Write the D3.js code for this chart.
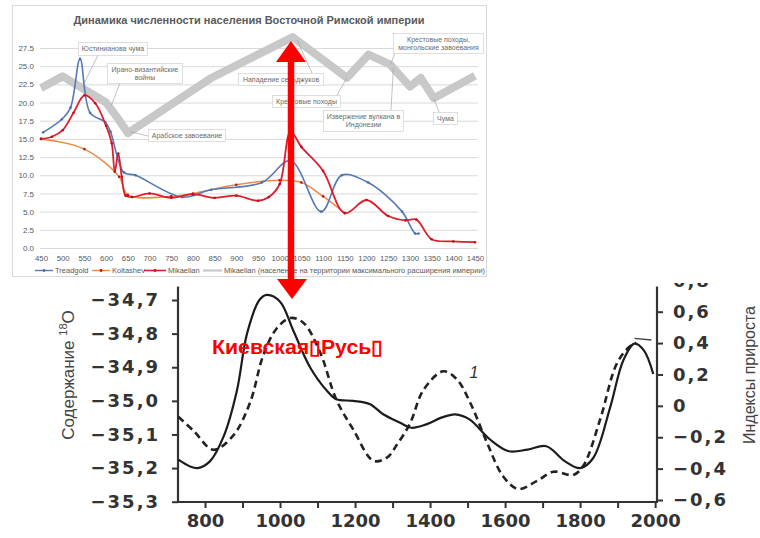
<!DOCTYPE html>
<html><head><meta charset="utf-8">
<script src="https://cdn.jsdelivr.net/npm/d3@7/dist/d3.min.js"></script>
<style>body{margin:0;background:#fff}svg{display:block}</style>
</head><body>
<svg id="c" width="760" height="538"></svg>
<script>
// ================= DATA: top chart =================
const topTitle = "Динамика численности населения Восточной Римской империи";
const topYTicks = [0, 2.5, 5, 7.5, 10, 12.5, 15, 17.5, 20, 22.5, 25, 27.5];
const topXTicks = [450,500,550,600,650,700,750,800,850,900,950,1000,1050,1100,1150,1200,1250,1300,1350,1400,1450];

const treadgoldYears  = [455, 498, 518, 540, 563, 598, 610, 641, 668, 775, 842, 959, 1025, 1096, 1143, 1204, 1282, 1312, 1320];
const treadgoldValues = [15.9, 17.7, 19.3, 26.0, 18.6, 17.3, 16.0, 10.4, 10.0, 7.0, 8.0, 9.0, 12.0, 5.0, 10.0, 9.0, 5.0, 2.0, 2.0];

const koltashevYears  = [450, 550, 630, 650, 750, 800, 900, 1000, 1050, 1100, 1150];
const koltashevValues = [15.0, 13.6, 9.8, 7.3, 7.1, 7.5, 8.7, 9.3, 9.0, 7.1, 4.8];

const mikaelianYears  = [450, 475, 500, 525, 550, 575, 600, 613, 620, 628, 636, 645, 660, 700, 750, 800, 850, 900, 950, 975, 1000, 1025, 1050, 1100, 1150, 1200, 1250, 1290, 1315, 1350, 1400, 1450];
const mikaelianValues = [15.0, 15.3, 16.2, 18.6, 21.0, 19.9, 16.8, 14.4, 10.5, 13.0, 9.8, 7.2, 7.0, 7.5, 6.9, 7.4, 6.9, 7.2, 6.5, 7.0, 8.8, 16.0, 13.9, 10.6, 4.8, 6.6, 4.4, 3.8, 3.9, 1.2, 0.9, 0.8];

const maxTerritoryYears  = [450, 500, 600, 625, 650, 840, 1030, 1155, 1205, 1255, 1300, 1325, 1355, 1450];
const maxTerritoryValues = [22.0, 23.6, 20.0, 18.0, 15.8, 23.3, 29.0, 23.4, 26.6, 25.2, 22.2, 23.4, 20.6, 23.7];

const seriesNames = ["Treadgold", "Koltashev", "Mikaelian", "Mikaelian (население на территории максимального расширения империи)"];

const eventLabels = [
  ["Юстинианова чума"],
  ["Ирано-византийские", "войны"],
  ["Арабское завоевание"],
  ["Нападение сельджуков"],
  ["Крестовые походы"],
  ["Извержение вулкана в", "Индонезии"],
  ["Крестовые походы,", "монгольские завоевания"],
  ["Чума"]
];
const eventYears  = [548, 612, 655, 1040, 1155, 1262, 1255, 1355];
const eventValues = [22.5, 19.6, 16.0, 28.6, 23.4, 24.8, 25.2, 20.6];

// ================= DATA: bottom chart =================
const leftTicks  = [-35.3, -35.2, -35.1, -35.0, -34.9, -34.8, -34.7];
const rightTicks = [-0.6, -0.4, -0.2, 0, 0.2, 0.4, 0.6, 0.8];
const bottomTicks = [800, 900, 1000, 1100, 1200, 1300, 1400, 1500, 1600, 1700, 1800, 1900, 2000];
const bottomLabelTicks = [800, 1000, 1200, 1400, 1600, 1800, 2000];
const leftTitle = "Содержание ";
const rightTitle = "Индексы прироста";
const overlayText = "Киевская▯Русь▯";

const isotopeYears  = [729, 760, 780, 813, 850, 885, 912, 945, 965, 1000, 1035, 1080, 1125, 1150, 1195, 1240, 1275, 1320, 1350, 1390, 1430, 1467, 1505, 1560, 1610, 1660, 1710, 1760, 1800, 1835, 1880, 1915, 1945, 1970, 1995];
const isotopeValues = [-35.175, -35.195, -35.2, -35.18, -35.105, -34.97, -34.80, -34.70, -34.685, -34.705, -34.79, -34.90, -34.97, -34.995, -35.0, -35.01, -35.04, -35.065, -35.08, -35.07, -35.05, -35.04, -35.055, -35.115, -35.15, -35.145, -35.135, -35.18, -35.2, -35.17, -35.02, -34.88, -34.83, -34.85, -34.92];

const growthYears  = [729, 770, 822, 875, 920, 955, 990, 1027, 1062, 1107, 1150, 1195, 1249, 1285, 1311, 1347, 1382, 1435, 1471, 1507, 1551, 1595, 1635, 1684, 1729, 1782, 1809, 1853, 1898, 1933, 1950];
const growthValues = [-0.07, -0.16, -0.28, -0.19, 0.02, 0.32, 0.49, 0.56, 0.53, 0.34, 0.04, -0.15, -0.35, -0.33, -0.25, -0.11, 0.10, 0.22, 0.17, 0.02, -0.23, -0.45, -0.53, -0.48, -0.42, -0.44, -0.38, -0.09, 0.27, 0.38, 0.40];

// ================= DRAWING =================
const svg = d3.select("#c");
const F = "'Liberation Sans', Arial, sans-serif";
const FD = "'DejaVu Sans', sans-serif";
const zip = (a, b) => a.map((v, i) => [v, b[i]]);

// ---------- top chart ----------
svg.append("rect").attr("x", 12.5).attr("y", 5.5).attr("width", 474).attr("height", 271)
  .attr("fill", "#fff").attr("stroke", "#d9d9d9");

svg.append("text").attr("x", 249).attr("y", 24).attr("text-anchor", "middle")
  .attr("fill", "#595959").style("font", "bold 11px " + F).text(topTitle);

const xT = d3.scaleLinear().domain([450, 1450]).range([41, 475]);
const yT = d3.scaleLinear().domain([0, 27.5]).range([248, 48]);

const gy = svg.append("g").attr("transform", "translate(40,0)")
  .call(d3.axisLeft(yT).tickValues(topYTicks).tickSize(-438).tickPadding(6).tickFormat(d3.format(".1f")));
gy.select(".domain").remove();
gy.selectAll("line").attr("stroke", "#d9d9d9");
gy.selectAll("text").attr("fill", "#595959").style("font", "8px " + F);

const gx = svg.append("g").attr("transform", "translate(0,248)")
  .call(d3.axisBottom(xT).tickValues(topXTicks).tickSize(0).tickPadding(7).tickFormat(d3.format("d")));
gx.select(".domain").attr("stroke", "#d9d9d9");
gx.selectAll("text").attr("fill", "#595959").style("font", "7.8px " + F);

const lineT = d3.line().x(d => xT(d[0])).y(d => yT(d[1]));
const smoothT = d3.line().x(d => xT(d[0])).y(d => yT(d[1])).curve(d3.curveCatmullRom.alpha(0.5));

// grey thick series
svg.append("path").datum(zip(maxTerritoryYears, maxTerritoryValues))
  .attr("d", lineT).attr("fill", "none").attr("stroke", "#c8c8c8").attr("stroke-width", 8)
  .attr("stroke-linejoin", "round").attr("stroke-linecap", "butt");

// annotations (callouts)
const boxes = [
  {x: 78, y: 42, w: 69, h: 13, lx: 98, ly: 55},
  {x: 107, y: 63, w: 75, h: 20, lx: 120, ly: 83},
  {x: 148, y: 129, w: 77, h: 12, lx: 148, ly: 136},
  {x: 238, y: 73, w: 85, h: 12, lx: 312, ly: 73},
  {x: 272, y: 95, w: 68, h: 12, lx: 337, ly: 95},
  {x: 323, y: 110, w: 80, h: 21, lx: 391, ly: 110},
  {x: 393, y: 33, w: 90, h: 20, lx: 395, ly: 53},
  {x: 433, y: 112, w: 24, h: 12, lx: 439, ly: 112}
];
const ann = svg.append("g");
eventLabels.forEach((lines, i) => {
  const b = boxes[i];
  ann.append("line").attr("x1", b.lx).attr("y1", b.ly)
    .attr("x2", xT(eventYears[i])).attr("y2", yT(eventValues[i]))
    .attr("stroke", "#a6a6a6").attr("stroke-width", 0.7);
});
eventLabels.forEach((lines, i) => {
  const b = boxes[i];
  ann.append("rect").attr("x", b.x + 0.5).attr("y", b.y + 0.5).attr("width", b.w).attr("height", b.h)
    .attr("fill", "#fff").attr("stroke", "#d0d0d0").attr("stroke-width", 0.7);
  lines.forEach((t, j) => {
    ann.append("text").attr("x", b.x + b.w / 2 + 0.5).attr("y", b.y + 9 + j * 8)
      .attr("text-anchor", "middle").attr("fill", "#6b6b6b").style("font", "7px " + F).text(t);
  });
});

const series = [
  {years: koltashevYears, values: koltashevValues, color: "#ee8a45", marker: "#b5121b", w: 1.5},
  {years: treadgoldYears, values: treadgoldValues, color: "#5479b8", marker: "#4a6fae", w: 1.6},
  {years: mikaelianYears, values: mikaelianValues, color: "#dc1f2e", marker: "#c0101d", w: 1.8}
];
series.forEach(s => {
  const pts = zip(s.years, s.values);
  svg.append("path").datum(pts).attr("d", smoothT).attr("fill", "none")
    .attr("stroke", s.color).attr("stroke-width", s.w);
  svg.append("g").selectAll("circle").data(pts).join("circle")
    .attr("cx", d => xT(d[0])).attr("cy", d => yT(d[1])).attr("r", 1.3).attr("fill", s.marker);
});

// legend
const legendLayout = [
  {x1: 35, x2: 53, tx: 55, color: "#5479b8", marker: "#4a6fae", w: 1.4},
  {x1: 92, x2: 110, tx: 112, color: "#ee8a45", marker: "#b5121b", w: 1.4},
  {x1: 144, x2: 166, tx: 168, color: "#dc1f2e", marker: "#c0101d", w: 1.6},
  {x1: 203, x2: 222, tx: 224, color: "#c8c8c8", marker: null, w: 2.2}
];
seriesNames.forEach((name, i) => {
  const L = legendLayout[i];
  svg.append("line").attr("x1", L.x1).attr("x2", L.x2).attr("y1", 270.5).attr("y2", 270.5)
    .attr("stroke", L.color).attr("stroke-width", L.w);
  if (L.marker) svg.append("circle").attr("cx", (L.x1 + L.x2) / 2).attr("cy", 270.5).attr("r", 1.4).attr("fill", L.marker);
  svg.append("text").attr("x", L.tx).attr("y", 273.3).attr("fill", "#595959")
    .style("font", "7.5px " + F).text(name);
});

// ---------- bottom chart ----------
svg.append("defs").append("clipPath").attr("id", "bc")
  .append("rect").attr("x", 0).attr("y", 283).attr("width", 760).attr("height", 260);
const B = svg.append("g").attr("clip-path", "url(#bc)");

const xB = d3.scaleLinear().domain([728, 2005]).range([178, 657]);
const yL = d3.scaleLinear().domain([-35.3, -34.7]).range([501.7, 300]);
const yR = d3.scaleLinear().domain([-0.6, 0.6]).range([500, 311.7]);

const loc = d3.formatLocale({decimal: ",", thousands: " ", grouping: [3], currency: ["", ""], minus: "\u2212"});
const ink = "#333";

// axis lines
B.append("line").attr("x1", 178).attr("x2", 178).attr("y1", yL(-34.66)).attr("y2", 502).attr("stroke", ink).attr("stroke-width", 2.2);
B.append("line").attr("x1", 657).attr("x2", 657).attr("y1", yL(-34.66)).attr("y2", 502).attr("stroke", ink).attr("stroke-width", 2.2);
B.append("line").attr("x1", 177).attr("x2", 658).attr("y1", 502).attr("y2", 502).attr("stroke", ink).attr("stroke-width", 2.2);

const gl = B.append("g").attr("transform", "translate(178,0)")
  .call(d3.axisLeft(yL).tickValues(leftTicks).tickSize(6).tickPadding(12).tickFormat(loc.format(".1f")));
gl.select(".domain").remove();
gl.selectAll("line").attr("stroke", ink).attr("stroke-width", 2);
gl.selectAll("text").attr("fill", ink).style("font", "bold 18px " + FD).style("letter-spacing", "2px");

const gr = B.append("g").attr("transform", "translate(657,0)")
  .call(d3.axisRight(yR).tickValues(rightTicks).tickSize(6).tickPadding(10).tickFormat(d => d === 0 ? "0" : loc.format(".1f")(d)));
gr.select(".domain").remove();
gr.selectAll("line").attr("stroke", ink).attr("stroke-width", 2);
gr.selectAll("text").attr("fill", ink).style("font", "bold 18px " + FD).style("letter-spacing", "2px");

const gb = B.append("g").attr("transform", "translate(0,502)")
  .call(d3.axisBottom(xB).tickValues(bottomTicks).tickSize(6).tickPadding(6)
    .tickFormat(d => bottomLabelTicks.includes(d) ? String(d) : ""));
gb.select(".domain").remove();
gb.selectAll("line").attr("stroke", ink).attr("stroke-width", 2);
gb.selectAll("text").attr("fill", ink).style("font", "bold 18px " + FD);

// axis titles
const lt = B.append("text").attr("transform", "translate(74,375) rotate(-90)").attr("text-anchor", "middle")
  .attr("fill", "#444").style("font", "17px " + F);
lt.append("tspan").text(leftTitle);
lt.append("tspan").attr("dy", -7).style("font-size", "11px").text("18");
lt.append("tspan").attr("dy", 7).text("O");

B.append("text").attr("transform", "translate(755,375) rotate(-90)").attr("text-anchor", "middle")
  .attr("fill", "#444").style("font", "16px " + F).text(rightTitle);

// curves
const lineL = d3.line().x(d => xB(d[0])).y(d => yL(d[1])).curve(d3.curveCatmullRom.alpha(0.5));
const lineR = d3.line().x(d => xB(d[0])).y(d => yR(d[1])).curve(d3.curveCatmullRom.alpha(0.5));
B.append("path").datum(zip(growthYears, growthValues)).attr("d", lineR).attr("fill", "none")
  .attr("stroke", "#222").attr("stroke-width", 2.6).attr("stroke-dasharray", "7,4.5");
B.append("path").datum(zip(isotopeYears, isotopeValues)).attr("d", lineL).attr("fill", "none")
  .attr("stroke", "#1c1c1c").attr("stroke-width", 2.2);

B.append("text").attr("x", xB(1505)).attr("y", yR(0.18)).attr("fill", "#333")
  .style("font", "italic 16px " + F).text("1");
B.append("line").attr("x1", xB(1945)).attr("y1", yR(0.43)).attr("x2", xB(1990)).attr("y2", yR(0.42))
  .attr("stroke", "#444").attr("stroke-width", 1.5);

// ---------- red overlay ----------
svg.append("line").attr("x1", 291).attr("x2", 291).attr("y1", 58).attr("y2", 283)
  .attr("stroke", "#ff0000").attr("stroke-width", 6.5);
svg.append("path").attr("d", "M291,41 L276,62 L306,62 Z").attr("fill", "#ff0000");
svg.append("path").attr("d", "M292,299 L277,279 L307,279 Z").attr("fill", "#ff0000");

svg.append("text").attr("x", 212).attr("y", 354).attr("fill", "#ff0000")
  .attr("textLength", 171).attr("lengthAdjust", "spacingAndGlyphs")
  .style("font", "bold 20px " + F).text(overlayText);
</script>
</body></html>
